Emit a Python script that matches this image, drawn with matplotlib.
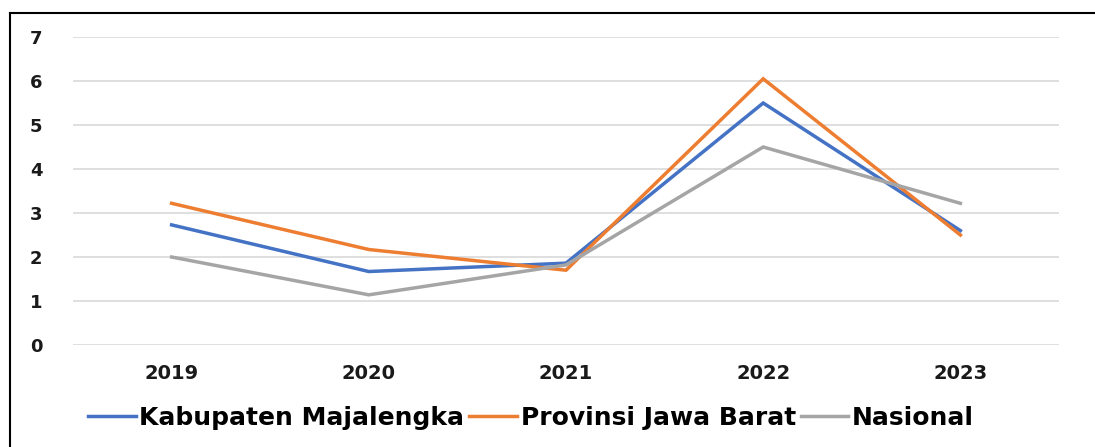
import matplotlib
matplotlib.use("Agg")
import matplotlib.pyplot as plt
from matplotlib.lines import Line2D

years = ["2019", "2020", "2021", "2022", "2023"]
kab_majalengka = [2.73, 1.67, 1.86, 5.50, 2.60]
prov_jabar = [3.22, 2.17, 1.70, 6.05, 2.50]
nasional = [2.00, 1.14, 1.82, 4.50, 3.22]
series_names = ["Kabupaten Majalengka", "Provinsi Jawa Barat", "Nasional"]
yticks = [0, 1, 2, 3, 4, 5, 6, 7]

colors = ["#4472C4", "#ED7D31", "#A5A5A5"]

W, H = 1095, 447
fig = plt.figure(figsize=(W / 100, H / 100), dpi=100)
fig.patch.set_facecolor("white")
ax = fig.add_axes([73 / W, 1 - 345 / H, (1059 - 73) / W, (345 - 37) / H])

x = list(range(len(years)))
handles = []
for vals, c, n in zip([kab_majalengka, prov_jabar, nasional], colors, series_names):
    h, = ax.plot(x, vals, color=c, lw=2.5, label=n, solid_joinstyle="miter")
    handles.append(h)

ax.set_xlim(-0.5, len(years) - 0.5)
ax.set_ylim(0, 7)
ax.set_yticks(yticks)
ax.set_yticklabels([str(v) for v in yticks], fontsize=13, fontweight="bold", color="#1a1a1a")
ax.set_xticks(x)
ax.set_xticklabels(years, fontsize=14, fontweight="bold", color="#1a1a1a")
ax.tick_params(axis="y", length=0, pad=26.5)
ax.tick_params(axis="x", length=0, pad=14)
for lab in ax.get_yticklabels():
    lab.set_horizontalalignment("center")
ax.grid(axis="y", color="#D9D9D9", lw=1.2)
ax.set_axisbelow(True)
for s in ax.spines.values():
    s.set_visible(False)

fig.legend(handles=handles, labels=series_names, loc="center", bbox_to_anchor=(0.485, 1 - 418 / H),
           ncol=3, frameon=False, handlelength=1.9, handletextpad=0.15, columnspacing=0.2,
           borderpad=0, prop={"family": "DejaVu Sans", "weight": "bold", "size": 18})

# border (left and top)
fig.add_artist(Line2D([10 / W, 10 / W], [0, 1 - 13 / H], color="black", lw=1.5, transform=fig.transFigure))
fig.add_artist(Line2D([10 / W, 1], [1 - 13 / H, 1 - 13 / H], color="black", lw=1.5, transform=fig.transFigure))

fig.savefig("out.png", dpi=100)
